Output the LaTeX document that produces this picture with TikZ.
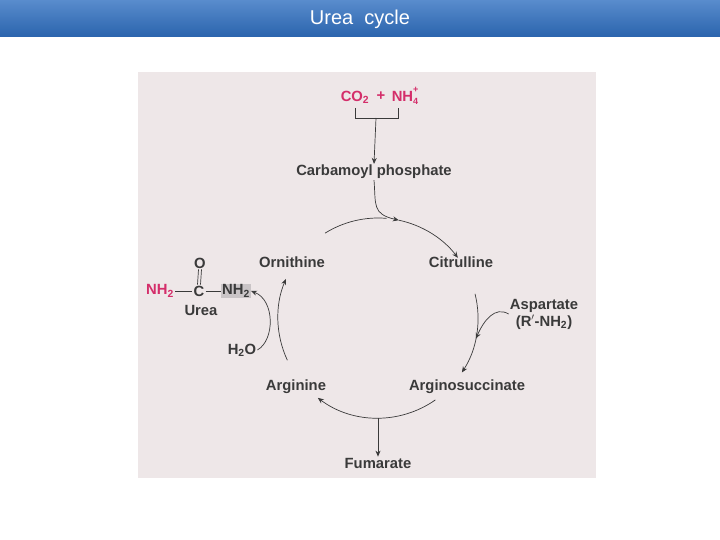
\documentclass[tikz,border=0pt]{standalone}
\usepackage{fontspec}
\setmainfont{Liberation Sans}
\usetikzlibrary{arrows.meta}
\definecolor{barblue}{HTML}{2F6FC0}
\definecolor{pinkbg}{HTML}{EEE7E8}
\definecolor{rosered}{HTML}{D42E6A}
\definecolor{inkg}{HTML}{3A3A3A}
\definecolor{hl}{HTML}{C9C4C6}
\tikzset{lbl/.style={font=\fontsize{14.8}{17}\selectfont\bfseries, text=inkg, inner sep=1pt},
  arr/.style={draw=inkg, line width=0.7pt, -{Stealth[length=6pt,width=5pt]}},
  ln/.style={draw=inkg, line width=0.7pt}}
\begin{document}
\begin{tikzpicture}[x=1pt,y=-1pt]
\useasboundingbox (0,0) rectangle (720,540);
\fill[white] (0,0) rectangle (720,540);
\shade[top color=barblue!80!white, bottom color=barblue!90!black] (0,0) rectangle (720,37);
\node[text=white, font=\fontsize{20}{22}\selectfont] (title) at (360,19) {Urea\ \ cycle};
\fill[pinkbg] (138,72) rectangle (596,478);
% top inputs
\node[lbl, text=rosered] (co2) at (355,97) {CO\textsubscript{2}};
\node[lbl, text=rosered] (plus) at (381,96) {+};
\node[lbl, text=rosered] (nh4) at (405,96) {NH\rlap{\raisebox{1.1ex}{\fontsize{9}{9}\selectfont +}}\raisebox{-0.45ex}{\fontsize{9}{9}\selectfont 4}};
\coordinate (b1) at (355,108); \coordinate (b2) at (398,108);
\draw[ln] (b1) -- ++(0,10) -- ++(43,0) -- (b2);
\coordinate (bm) at (376,118);
\node[lbl] (carb) at (374,172) {Carbamoyl phosphate};
\draw[arr] (bm) -- (carb.north);
% cycle nodes
\node[lbl] (orn) at (292,262) {Ornithine};
\node[lbl] (cit) at (461,262) {Citrulline};
\node[lbl] (arg) at (296,387) {Arginine};
\node[lbl] (as) at (467,387) {Arginosuccinate};
\node[lbl] (fum) at (378,463) {Fumarate};
% circle arcs (center 378,318, r 100)
\coordinate (cen) at (378,318);
\draw[ln] ([shift={(-122:100)}]cen) arc (-122:-85:100);
\draw[arr] ([shift={(-78:100)}]cen) arc (-78:-37:100);
\draw[arr] (carb.south) .. controls (376,205) and (372,214) .. ([shift={(-78:100)}]cen);
\draw[arr] ([shift={(-14:100)}]cen) arc (-14:33:100);
\draw[arr] ([shift={(55:100)}]cen) arc (55:127:100);
\draw[arr] ([shift={(155:100)}]cen) arc (155:203:100);
% aspartate
\node[lbl, align=center] (asp) at (544,314) {Aspartate\\(R$'$-NH\textsubscript{2})};
\draw[arr] (asp.west) .. controls (495,306) and (484,320) .. ([shift={(12:100)}]cen);
% fumarate
\draw[arr] ([shift={(90:100)}]cen) -- (fum.north);
% urea
\node[lbl] (o) at (200,263) {O};
\node[lbl, text=rosered] (nh2a) at (160,291) {NH\textsubscript{2}};
\node[lbl] (cc) at (199,291) {C};
\node[lbl, fill=hl] (nh2b) at (236,291) {NH\textsubscript{2}};
\node[lbl] (urea) at (201,310) {Urea};
\draw[ln] (nh2a) -- (cc); \draw[ln] (cc) -- (nh2b);
\draw[ln] ([xshift=-1.5pt]o.south) -- ([xshift=-1.5pt]cc.north);
\draw[ln] ([xshift=1.5pt]o.south) -- ([xshift=1.5pt]cc.north);
\node[lbl] (h2o) at (242,350) {H\textsubscript{2}O};
\draw[arr] (h2o.east) .. controls (275,340) and (275,300) .. (nh2b.east);
\end{tikzpicture}
\end{document}
